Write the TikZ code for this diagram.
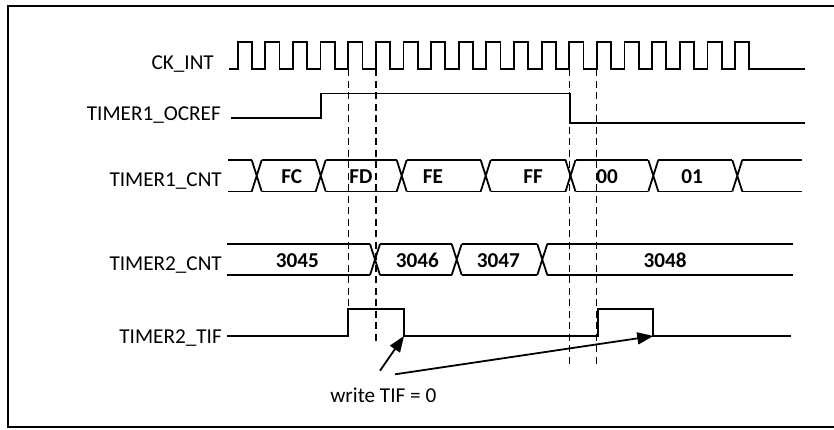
\documentclass[tikz,border=0pt]{standalone}
\usepackage{fontspec}
\setmainfont{Carlito}
\usetikzlibrary{arrows.meta}
\begin{document}
\begin{tikzpicture}[x=1pt,y=-1pt,
  sig/.style={draw=black, line width=1.8pt, line join=miter},
  guide/.style={draw=black, line width=1.3pt, dash pattern=on 7pt off 4.5pt},
  lbl/.style={anchor=base east, inner sep=0pt, font=\fontsize{21.2}{25}\selectfont},
  val/.style={anchor=base, inner sep=0pt, font=\fontsize{21.2}{25}\selectfont\bfseries},
  note/.style={anchor=base, inner sep=0pt, font=\fontsize{21.2}{25}\selectfont},
  ptr/.style={draw=black, line width=1.8pt, -{Triangle[length=16pt,width=12pt]}}]
\useasboundingbox (0,0) rectangle (834,429);
% frame
\draw[line width=1.6pt] (834,6) -- (8,6) -- (8,427) -- (834,427);

% labels
\node[lbl] (lck)  at (214,69.3)  {CK\_INT};
\node[lbl] (loc)  at (221,120.7) {TIMER1\_OCREF};
\node[lbl] (lc1)  at (222,186)   {TIMER1\_CNT};
\node[lbl] (lc2)  at (222,270.7) {TIMER2\_CNT};
\node[lbl] (ltif) at (222,343.3) {TIMER2\_TIF};

% clock
\draw[sig] (229,69) \foreach \k in {0,...,18} {
  -- ({237.7+27.63*\k},69) -- ({237.7+27.63*\k},42)
  -- ({251.9+27.63*\k},42) -- ({251.9+27.63*\k},69) } -- (805,69);

% OCREF
\draw[sig] (231,118) -- (321,118) -- (321,93.5) -- (570,93.5) -- (570,122.7) -- (805,122.7);

% TIMER1_CNT bus
\foreach \a/\b in {228/251.7, 261.7/315.7, 325.7/396.7, 406.7/480.7, 490.7/565.5, 575.5/648.3, 658.3/732.3, 742.3/802}
  \draw[sig] (\a,160) -- (\b,160) (\a,191.5) -- (\b,191.5);
\foreach \t in {256.7, 320.7, 401.7, 485.7, 570.5, 653.3, 737.3}
  \draw[sig] ({\t-5},160) -- ({\t+5},191.5) ({\t-5},191.5) -- ({\t+5},160);
\node[val] (vfc) at (291.7,183) {FC};
\node[val] (vfd) at (361,183) {FD};
\node[val] (vfe) at (433,183) {FE};
\node[val] (vff) at (533,183) {FF};
\node[val] (v00) at (607,183) {00};
\node[val] (v01) at (692,183) {01};

% TIMER2_CNT bus
\foreach \a/\b in {227/370, 380/451.7, 461.7/537.3, 547.3/793}
  \draw[sig] (\a,244) -- (\b,244) (\a,275) -- (\b,275);
\foreach \t in {375, 456.7, 542.3}
  \draw[sig] ({\t-5},244) -- ({\t+5},275) ({\t-5},275) -- ({\t+5},244);
\node[val] (v45) at (297.3,267.5) {3045};
\node[val] (v46) at (417.3,267.5) {3046};
\node[val] (v47) at (498.3,267.5) {3047};
\node[val] (v48) at (665,267.5) {3048};

% TIF
\draw[sig] (227,336) -- (348.3,336) -- (348.3,309) -- (404,309) -- (404,336)
  -- (598.3,336) -- (598.3,309) -- (653.3,309) -- (653.3,336) -- (791,336);

% guides
\draw[guide] (348.3,69) -- (348.3,336);
\draw[guide] (376,69) -- (376,343);
\draw[guide] (569.3,69) -- (569.3,368);
\draw[guide] (596.8,69) -- (596.8,368);

% annotation
\node[note] (wr) at (383.3,402.3) {write TIF = 0};
\coordinate (f1) at (404,336);
\coordinate (f2) at (653.3,336);
\coordinate (s1) at (380,370.7);
\coordinate (s2) at (395,374.3);
\draw[ptr] (s1) -- (f1);
\draw[ptr] (s2) -- (f2);
\end{tikzpicture}
\end{document}
